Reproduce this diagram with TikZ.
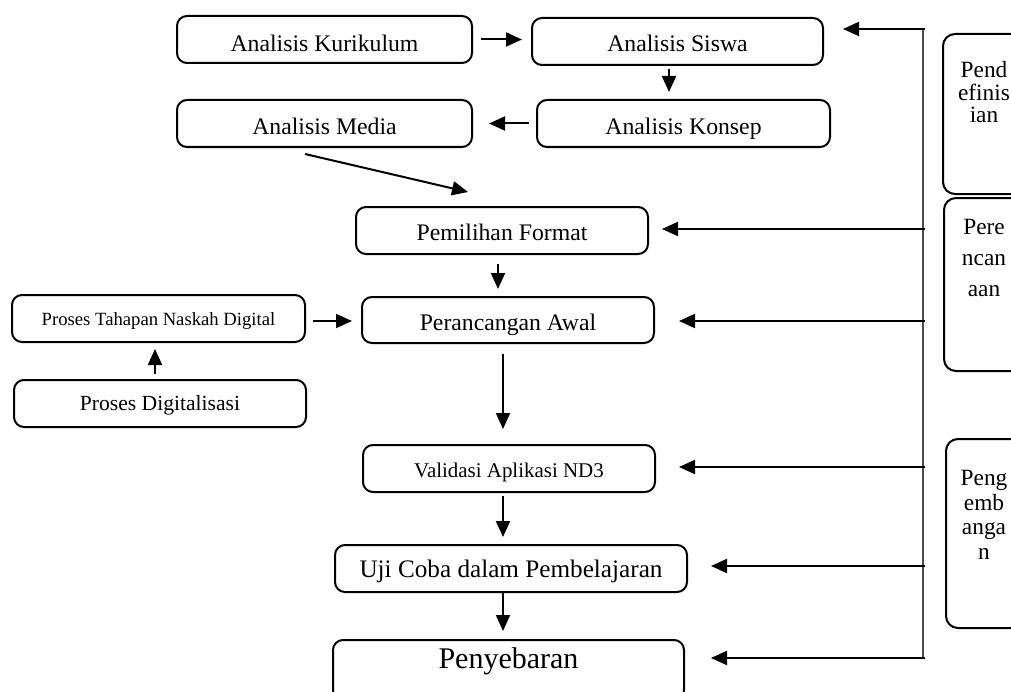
\documentclass[tikz,border=0pt]{standalone}
\usepackage{fontspec}
\setmainfont{Liberation Serif}
\usepackage{tikz}
\usetikzlibrary{arrows.meta}

\begin{document}
\begin{tikzpicture}[x=0.75pt,y=-0.75pt,>={Triangle[length=12pt,width=10.5pt]},
  box/.style={draw,line width=1.5pt,rounded corners=7.5pt,inner sep=0pt,
    minimum height=35.25pt,text depth=0pt},
  sidebox/.style={draw,line width=1.5pt,rounded corners=9pt,inner sep=0pt,
    minimum width=75pt,anchor=north west},
  sidetext/.style={align=center,inner sep=0pt,anchor=north},
  arr/.style={->,line width=1.5pt},
  guide/.style={line width=1.1pt,black!70}]
  \useasboundingbox (0,0) rectangle (1011,692);
  \clip (0,0) rectangle (1011,692);

  % Analisis (top rows)
  \node[box,minimum width=221.25pt,text height=18pt,font=\fontsize{17.8}{20}\selectfont] (kur) at (324.5,39.5) {Analisis Kurikulum};
  \node[box,minimum width=218.25pt,text height=15.75pt,font=\fontsize{17.8}{20}\selectfont] (siswa) at (677.5,41.5) {Analisis Siswa};
  \node[box,minimum width=221.25pt,text height=17.25pt,font=\fontsize{17.8}{20}\selectfont] (media) at (324.5,123.5) {Analisis Media};
  \node[box,minimum width=219.75pt,text height=17.25pt,font=\fontsize{17.8}{20}\selectfont] (konsep) at (683.5,123.5) {Analisis Konsep};

  % Perencanaan
  \node[box,minimum width=219pt,text height=14.25pt,font=\fontsize{17.8}{20}\selectfont] (format) at (502,230.5) {Pemilihan Format};
  \node[box,minimum width=219pt,minimum height=34.5pt,text height=15pt,font=\fontsize{17.8}{20}\selectfont] (awal) at (508,320) {Perancangan Awal};
  \node[box,minimum width=219.75pt,text height=9.75pt,font=\fontsize{14}{16}\selectfont] (naskah) at (158.5,318.5) {Proses Tahapan Naskah Digital};
  \node[box,minimum width=219pt,text height=9.75pt,font=\fontsize{16.2}{18}\selectfont] (digital) at (160,403.5) {Proses Digitalisasi};

  % Pengembangan + penyebaran
  \node[box,minimum width=219pt,text height=12.75pt,font=\fontsize{15.7}{18}\selectfont] (validasi) at (509,468.5) {Validasi Aplikasi ND3};
  \node[box,minimum width=264pt,text height=12.75pt,font=\fontsize{18.9}{21}\selectfont] (uji) at (511,568.5) {Uji Coba dalam Pembelajaran};
  \node[box,minimum width=263.25pt,minimum height=45pt,text height=20pt,text depth=23pt,font=\fontsize{22.5}{25}\selectfont] (sebar) at (508.5,670) {Penyebaran};

  % stage boxes on the right (cut by the page edge)
  \node[sidebox,minimum height=120pt] (defbox) at (942,33) {};
  \node[sidetext,font=\fontsize{17.5}{17}\selectfont] (deftext) at (984,61) {Pend\\efinis\\ian};
  \node[sidebox,minimum height=129.75pt] (planbox) at (943,197) {};
  \node[sidetext,font=\fontsize{17.5}{23.25}\selectfont] (plantext) at (984,219) {Pere\\ncan\\aan};
  \node[sidebox,minimum height=141.75pt] (devbox) at (945,438) {};
  \node[sidetext,font=\fontsize{17.5}{18.5}\selectfont] (devtext) at (984,470) {Peng\\emb\\anga\\n};

  % flow arrows
  \draw[arr,shorten <=6pt,shorten >=6.75pt] (kur.east) -- (kur.east -| siswa.west);
  \draw[arr,shorten <=2.25pt,shorten >=5.25pt] ([shift={(-8.5,0)}]siswa.south) -- ([shift={(-8.5,0)}]siswa.south |- konsep.north);
  \draw[arr,shorten <=5.25pt,shorten >=12pt] (konsep.west) -- (konsep.west -| media.east);
  \draw[arr] ([shift={(-19.5,6)}]media.south) -- ([shift={(-34,-14)}]format.north);
  \draw[arr,shorten <=6.75pt,shorten >=5.25pt] ([shift={(-4,0)}]format.south) -- ([shift={(-4,0)}]format.south |- awal.north);
  \draw[arr,shorten <=5.25pt,shorten >=6.75pt] ([shift={(0,2.5)}]naskah.east) -- ([shift={(0,2.5)}]naskah.east -| awal.west);
  \draw[arr,shorten <=3.75pt,shorten >=4.5pt] ([shift={(-5,0)}]digital.north) -- ([shift={(-5,0)}]digital.north |- naskah.south);
  \draw[arr,shorten <=7.5pt,shorten >=11.25pt] ([shift={(-5,0)}]awal.south) -- ([shift={(-5,0)}]awal.south |- validasi.north);
  \draw[arr,shorten <=2.25pt,shorten >=5.25pt] ([shift={(-6,0)}]validasi.south) -- ([shift={(-6,0)}]validasi.south |- uji.north);
  \draw[arr,shorten >=6pt] ([shift={(-8,0)}]uji.south) -- ([shift={(-8,0)}]uji.south |- sebar.north);

  % guide line with its arrows back to the stages
  \coordinate (g1) at (923,29);
  \coordinate (g2) at (923,229);
  \coordinate (g3) at (923,321);
  \coordinate (g4) at (923,467);
  \coordinate (g5) at (923,566);
  \coordinate (g6) at (923,658);
  \draw[guide] (g1) -- (g6);
  \foreach \g/\t/\s in {g1/siswa/14.25,g2/format/9.75,g3/awal/18,g4/validasi/17.25,g5/uji/17.25,g6/sebar/19.5}
    \draw[arr,shorten >=\s pt] ([shift={(1.5,0)}]\g) -- (\g -| \t.east);
\end{tikzpicture}
\end{document}
